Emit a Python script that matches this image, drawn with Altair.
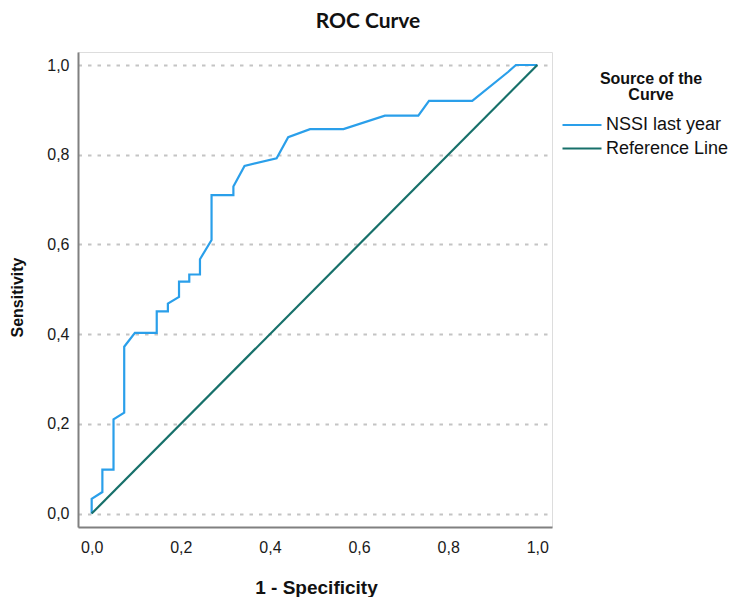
import altair as alt
import pandas as pd

# ROC curve points (1 - specificity, sensitivity)
nssi_fpr = [0.0, 0.0, 0.024, 0.024, 0.049, 0.049, 0.073, 0.073, 0.097, 0.146,
            0.146, 0.171, 0.171, 0.196, 0.196, 0.219, 0.219, 0.243, 0.243, 0.269,
            0.269, 0.318, 0.318, 0.343, 0.415, 0.441, 0.49, 0.565, 0.658, 0.733,
            0.757, 0.854, 0.935, 0.952, 1.0]
nssi_tpr = [0.0, 0.033, 0.048, 0.098, 0.098, 0.21, 0.225, 0.372, 0.403, 0.403,
            0.451, 0.451, 0.468, 0.483, 0.517, 0.517, 0.533, 0.533, 0.567, 0.61,
            0.71, 0.71, 0.729, 0.775, 0.792, 0.839, 0.857, 0.857, 0.887, 0.887,
            0.92, 0.92, 0.985, 1.0, 1.0]
ref_x = [0.0, 1.0]
ref_y = [0.0, 1.0]

series_names = ["NSSI last year", "Reference Line"]
series_colors = ["#2a9fea", "#17706a"]
tick_values = [0.0, 0.2, 0.4, 0.6, 0.8, 1.0]
chart_title = ["ROC Curve"]

rows = []
for i, (a, b) in enumerate(zip(nssi_fpr, nssi_tpr)):
    rows.append({"x": a, "y": b, "series": series_names[0], "ord": i})
for i, (a, b) in enumerate(zip(ref_x, ref_y)):
    rows.append({"x": a, "y": b, "series": series_names[1], "ord": i})
df = pd.DataFrame(rows)
title_df = pd.DataFrame({"t": chart_title})

label_expr = "replace(format(datum.value, '.1f'), '.', ',')"
FONT = "Liberation Sans"

lines = alt.Chart(df).mark_line(strokeWidth=2.2).encode(
    x=alt.X("x:Q",
            scale=alt.Scale(domain=[-0.0307, 1.033], nice=False, zero=False),
            axis=alt.Axis(values=tick_values, labelExpr=label_expr, grid=False,
                          ticks=False, domainColor="#808080", domainWidth=2,
                          labelFont=FONT, labelFontSize=16, labelColor="#1a1a1a",
                          labelPadding=12,
                          title="1 - Specificity", titleFont=FONT, titleFontSize=19,
                          titleFontWeight="bold", titleColor="#111111",
                          titleX=238, titleY=66, titleBaseline="alphabetic",
                          titleAlign="center")),
    y=alt.Y("y:Q",
            scale=alt.Scale(domain=[-0.0299, 1.029], nice=False, zero=False),
            axis=alt.Axis(values=tick_values, labelExpr=label_expr, grid=True,
                          gridColor="#c4c4c4", gridDash=[3.5, 6], gridWidth=2,
                          ticks=False, domainColor="#808080", domainWidth=2,
                          labelFont=FONT, labelFontSize=16, labelColor="#1a1a1a",
                          labelPadding=9,
                          title="Sensitivity", titleFont=FONT, titleFontSize=16,
                          titleFontWeight="bold", titleColor="#111111",
                          titleX=-61, titleY=245, titleAngle=270,
                          titleBaseline="middle", titleAlign="center")),
    color=alt.Color("series:N",
                    scale=alt.Scale(domain=series_names, range=series_colors),
                    legend=alt.Legend(title=["Source of the", "Curve"],
                                      orient="none", legendX=495, legendY=19,
                                      padding=0,
                                      titleFont=FONT, titleFontSize=16,
                                      titleFontWeight="bold", titleColor="#111111",
                                      titleAlign="center", titleAnchor="middle",
                                      titleLineHeight=16, titlePadding=13,
                                      labelFont=FONT, labelFontSize=18,
                                      labelColor="#111111", labelOffset=15,
                                      labelLimit=300,
                                      symbolType="M-3,0H3", symbolSize=169,
                                      symbolStrokeWidth=2.2, rowPadding=5.5)),
    order=alt.Order("ord:Q"),
)

title_text = alt.Chart(title_df).mark_text(
    font="Lato", fontSize=21, fontWeight="bold", color="#111111",
    align="center", baseline="alphabetic",
).encode(
    text="t:N",
    x=alt.value(290),
    y=alt.value(-24),
)

chart = alt.layer(lines, title_text).properties(
    width=474,
    height=475,
    autosize=alt.AutoSizeParams(type="none"),
    padding={"left": 70, "top": 44, "right": 178, "bottom": 70},
).configure_view(stroke=None).configure(background="white")

chart.save("out.html", embed_options={"renderer": "svg", "actions": False})
